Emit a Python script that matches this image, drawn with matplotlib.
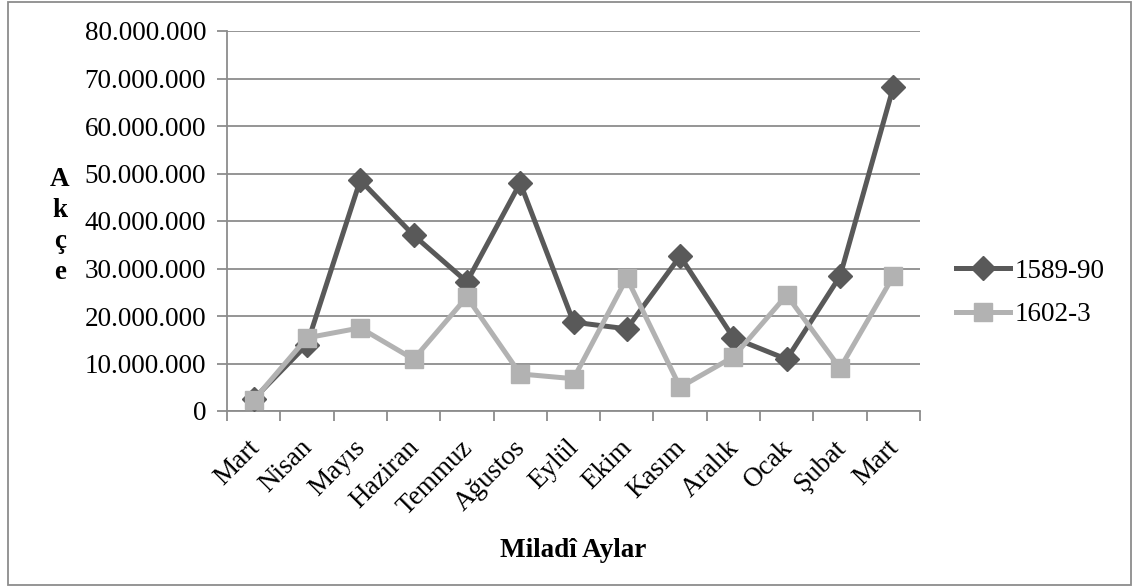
import matplotlib
matplotlib.use("Agg")
import matplotlib.pyplot as plt
from matplotlib.patches import Rectangle
from matplotlib.ticker import FuncFormatter, FixedLocator
from matplotlib.transforms import ScaledTranslation

months = ["Mart", "Nisan", "Mayıs", "Haziran", "Temmuz", "Ağustos", "Eylül",
          "Ekim", "Kasım", "Aralık", "Ocak", "Şubat", "Mart"]
s1589 = [2.5e6, 14.0e6, 48.6e6, 37.0e6, 27.2e6, 48.0e6, 18.7e6,
         17.3e6, 32.6e6, 15.4e6, 10.9e6, 28.4e6, 68.2e6]
s1602 = [2.3e6, 15.4e6, 17.5e6, 10.9e6, 24.0e6, 7.8e6, 6.8e6,
         28.0e6, 5.0e6, 11.4e6, 24.4e6, 9.0e6, 28.4e6]
series_names = ["1589-90", "1602-3"]

plt.rcParams['font.family'] = ['Liberation Serif', 'DejaVu Serif']
FS = 19.5

fig = plt.figure(figsize=(11.38, 5.87), dpi=100)
ax = fig.add_axes([227/1138, 1-411/587, (920-227)/1138, (411-31)/587])

x = list(range(len(months)))
dark = "#595959"
light = "#b2b2b2"
ax.plot(x, s1589, color=dark, lw=3.6, marker="D", ms=12, mec=dark, mfc=dark,
        label=series_names[0], zorder=3)
ax.plot(x, s1602, color=light, lw=3.6, marker="s", ms=13.5, mec=light, mfc=light,
        label=series_names[1], zorder=4)

ax.set_xlim(-0.5, len(months) - 0.5)
ax.set_ylim(0, 80e6)
ax.set_yticks([i * 10e6 for i in range(9)])
ax.yaxis.set_major_formatter(FuncFormatter(lambda v, p: f"{int(v):,}".replace(",", ".")))
ax.yaxis.grid(True, color="#8c8c8c", lw=1.3)
ax.set_axisbelow(True)

ax.set_xticks(x)
ax.set_xticklabels(months, rotation=45, ha="right", va="top", rotation_mode="anchor")
ax.xaxis.set_minor_locator(FixedLocator([i - 0.5 for i in range(len(months) + 1)]))
ax.tick_params(axis="x", which="major", length=0, pad=17.5, labelsize=FS)
ax.tick_params(axis="x", which="minor", length=7, width=1.3, color="#8c8c8c", direction="out")
ax.tick_params(axis="y", length=7, width=1.3, color="#8c8c8c", direction="out", labelsize=FS, pad=8)
offset = ScaledTranslation(-7/100, 0, fig.dpi_scale_trans)
for lab in ax.get_xticklabels():
    lab.set_transform(lab.get_transform() + offset)

for side in ["top", "right"]:
    ax.spines[side].set_visible(False)
for side in ["left", "bottom"]:
    ax.spines[side].set_color("#8c8c8c")
    ax.spines[side].set_linewidth(1.3)

ax.set_xlabel("Miladî Aylar", fontsize=FS, fontweight="bold", labelpad=13)
fig.text(60/1138, 1-226/587, "A\nk\nç\ne", fontsize=FS, fontweight="bold",
         ha="center", va="center", linespacing=1.3)

ax.legend(loc="center left", bbox_to_anchor=(956/1138, 1-293/587),
          bbox_transform=fig.transFigure, frameon=False, fontsize=FS,
          handlelength=2.0, handletextpad=0.15, labelspacing=0.7,
          borderpad=0, borderaxespad=0)

fig.patches.append(Rectangle((8/1138, 1-585/587), (1131-8)/1138, (585-2)/587,
                             transform=fig.transFigure, fill=False,
                             edgecolor="#8c8c8c", lw=1.3))

fig.savefig("out.png", dpi=100)
